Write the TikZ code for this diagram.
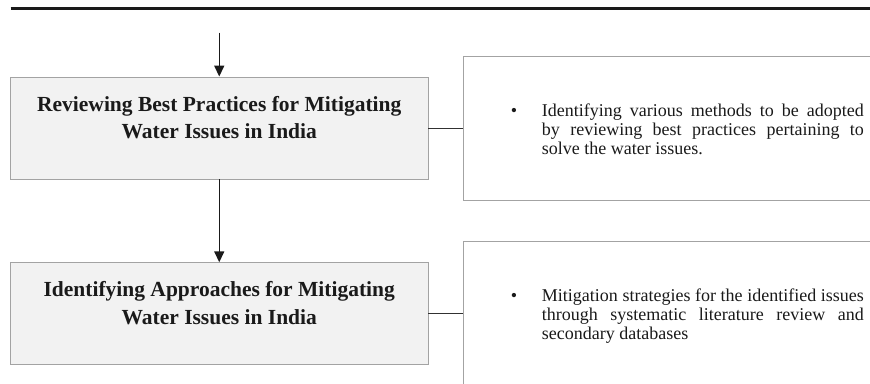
\documentclass[tikz,border=0pt]{standalone}
\usepackage{fontspec}
\setmainfont{Liberation Serif}
\usetikzlibrary{arrows.meta,positioning}
\definecolor{ink}{HTML}{1A1A1A}
\definecolor{panel}{HTML}{F2F2F2}
\definecolor{edge}{HTML}{A3A3A3}
\newcommand{\stagetitle}[1]{\parbox[t]{405pt}{\centering\baselineskip=27.5pt #1\par}}
\newcommand{\bulletnote}[1]{\parbox[t]{353pt}{\baselineskip=19pt
  \hangindent=31pt\hangafter=1\noindent\makebox[31pt][l]{\textbullet}#1\par}}

\begin{document}
\begin{tikzpicture}[
  x=1pt, y=-1pt,
  flow/.style={-{Triangle[length=11pt,width=10pt]}, line width=1.5pt, draw=ink},
  link/.style={line width=1pt, draw=ink!90},
  rule/.style={line width=3pt, draw=ink},
  stage/.style={draw=edge, line width=0.9pt, fill=panel, text=ink,
                minimum width=417.5pt, minimum height=102pt, inner sep=0pt,
                text height=15pt, text depth=49pt,
                font=\fontsize{21.5}{27.5}\selectfont\bfseries},
  detail/.style={draw=edge, line width=0.9pt, fill=white, text=ink,
                 minimum width=448pt, minimum height=144pt, inner sep=0pt,
                 text height=12pt, text depth=36pt,
                 font=\fontsize{18}{19}\selectfont}
]
\useasboundingbox (0,0) rectangle (870,383);
\clip (0,0) rectangle (870,383);

\draw[rule] (10.5,8) -- (870,8);

% stages
\node[stage] (review) at (219.25,128)
  {\stagetitle{Reviewing Best Practices for Mitigating\\Water Issues in India}};
\node[stage] (approach) at (219.25,313.75)
  {\stagetitle{Identifying Approaches for Mitigating\\Water Issues in India}};

% notes beside the stages
\node[detail, right=34.5pt of review] (reviewnote)
  {\bulletnote{Identifying various methods to be adopted\linebreak
   by reviewing best practices pertaining to\linebreak
   solve the water issues.}};
\node[detail, right=34.5pt of approach] (approachnote)
  {\bulletnote{Mitigation strategies for the identified issues\linebreak
   through systematic literature review and\linebreak
   secondary databases}};

\coordinate (entry) at (219.25,32.5);
\draw[flow] (entry) -- (review.north);
\draw[flow] (review) -- (approach);
\draw[link] (review) -- (reviewnote);
\draw[link] (approach) -- (approachnote);

\end{tikzpicture}
\end{document}
